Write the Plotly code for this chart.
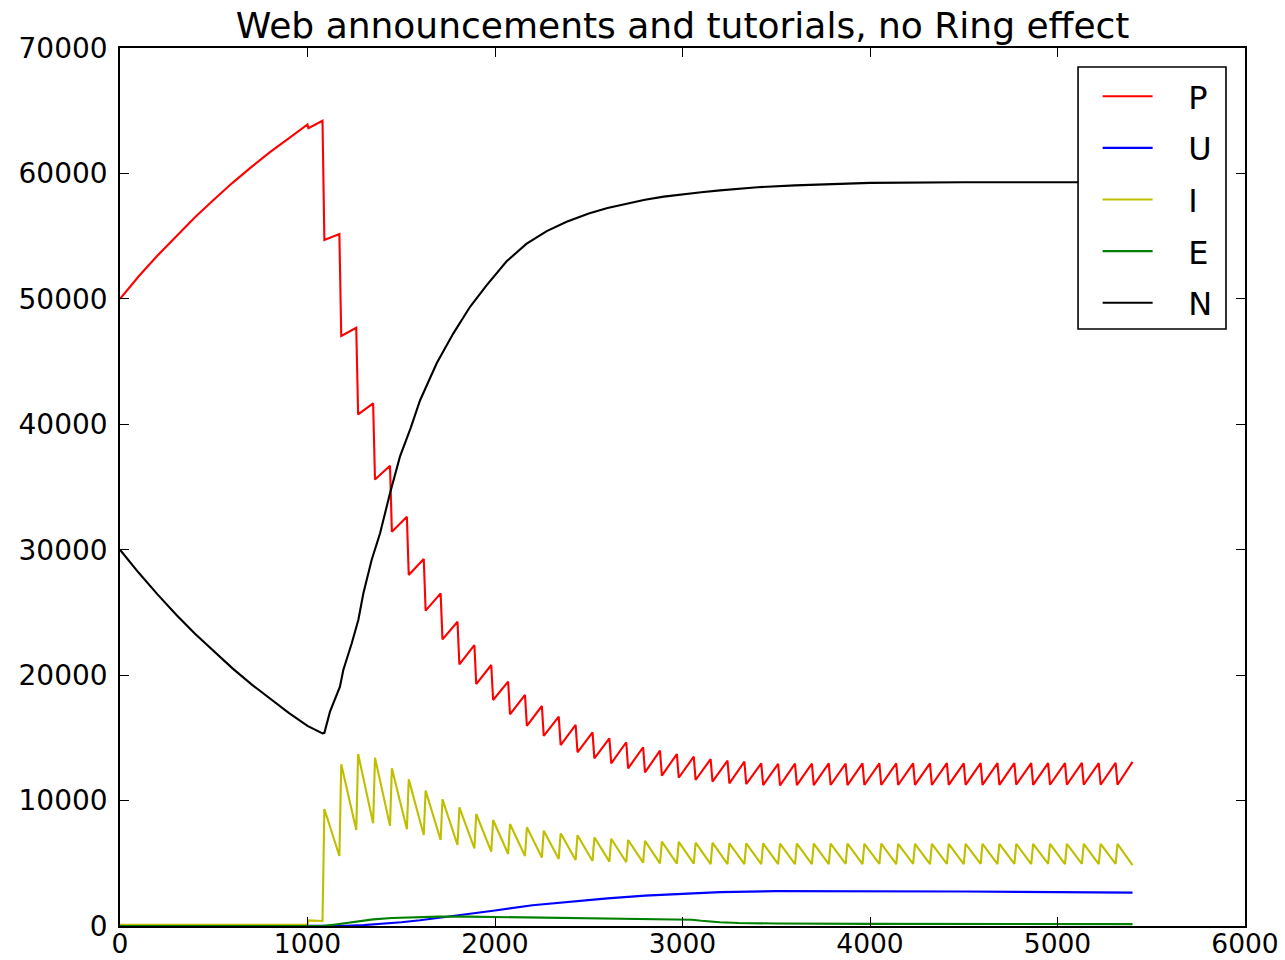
import plotly.graph_objects as go

# ---------------- data ----------------
# early phase, before the first big transfer
t_early = [0, 100, 200, 300, 400, 500, 600, 700, 800, 900, 1000, 1005]
P_early = [50000, 51800, 53450, 55000, 56500, 57900, 59250, 60500, 61700, 62800, 63900, 63600]
I_early = [100, 100, 100, 100, 100, 100, 100, 100, 100, 100, 100, 450]

# oscillating phase: pairs of (before jump, after jump) times
t_teeth = [1080, 1090, 1170, 1180, 1260, 1270, 1350, 1360, 1440, 1450,
           1530, 1540, 1620, 1630, 1710, 1720, 1800, 1810, 1890, 1900,
           1980, 1990, 2070, 2080, 2160, 2170, 2250, 2260, 2340, 2350,
           2430, 2440, 2520, 2530, 2610, 2620, 2700, 2710, 2790, 2800,
           2880, 2890, 2970, 2980, 3060, 3070, 3150, 3160, 3240, 3250,
           3330, 3340, 3420, 3430, 3510, 3520, 3600, 3610, 3690, 3700,
           3780, 3790, 3870, 3880, 3960, 3970, 4050, 4060, 4140, 4150,
           4230, 4240, 4320, 4330, 4410, 4420, 4500, 4510, 4590, 4600,
           4680, 4690, 4770, 4780, 4860, 4870, 4950, 4960, 5040, 5050,
           5130, 5140, 5220, 5230, 5310, 5320, 5400]

P_teeth = [64200, 54690, 55170, 47040, 47700, 40790, 41670, 35600, 36700, 31440,
           32630, 27980, 29260, 25140, 26520, 22850, 24260, 20860, 22400, 19290,
           20810, 18020, 19480, 16880, 18420, 15950, 17540, 15150, 16690, 14430,
           16030, 13850, 15440, 13370, 14960, 12970, 14650, 12570, 14250, 12250,
           13980, 11990, 13710, 11820, 13500, 11640, 13310, 11510, 13180, 11370,
           13100, 11320, 12970, 11240, 12920, 11200, 12950, 11230, 12950, 11230,
           12960, 11240, 12950, 11230, 12960, 11240, 12970, 11240, 12960, 11240,
           12970, 11250, 12970, 11240, 12980, 11250, 12970, 11250, 12980, 11250,
           12980, 11250, 12990, 11260, 12980, 11250, 12990, 11260, 12990, 11260,
           13000, 11260, 12990, 11260, 13000, 11260, 13080]

I_teeth = [400, 9330, 5580, 12890, 7650, 13710, 8190, 13420, 8000, 12570,
           7710, 11690, 7255, 10790, 6860, 10100, 6460, 9460, 6190, 8930,
           5925, 8450, 5740, 8130, 5580, 7870, 5450, 7600, 5340, 7390,
           5260, 7230, 5180, 7070, 5130, 6960, 5080, 6860, 5050, 6780,
           5000, 6720, 4970, 6700, 4970, 6640, 4940, 6640, 4940, 6590,
           4930, 6590, 4930, 6590, 4930, 6570, 4940, 6560, 4940, 6560,
           4940, 6560, 4950, 6560, 4940, 6550, 4950, 6560, 4940, 6550,
           4950, 6550, 4940, 6550, 4950, 6550, 4940, 6550, 4950, 6550,
           4940, 6550, 4950, 6550, 4940, 6550, 4950, 6550, 4940, 6550,
           4950, 6550, 4940, 6550, 4950, 6550, 4860]

# smooth compartments
t_N = [0, 100, 200, 300, 400, 500, 600, 700, 800, 900, 1000, 1080, 1090, 1120,
       1173, 1191, 1236, 1271, 1298, 1342, 1387, 1440, 1493, 1550, 1600, 1689,
       1778, 1867, 1956, 2062, 2169, 2276, 2382, 2453, 2500, 2600, 2700, 2800,
       2900, 3000, 3100, 3200, 3400, 3600, 3800, 4000, 4500, 5000, 5400]
N_vals = [30000, 28160, 26440, 24820, 23300, 21880, 20540, 19280, 18100, 16990,
          15950, 15350, 15400, 17090, 19080, 20410, 22540, 24400, 26530, 29180,
          31310, 34500, 37420, 39700, 41900, 44860, 47250, 49370, 51100, 53000,
          54400, 55400, 56150, 56550, 56800, 57250, 57600, 57900, 58150, 58350,
          58500, 58650, 58900, 59050, 59150, 59250, 59300, 59300, 59300]

t_U = [0, 1080, 1200, 1300, 1400, 1500, 1600, 1700, 1800, 1900, 2000, 2200, 2400,
       2600, 2800, 3000, 3200, 3500, 4000, 4500, 5000, 5400]
U_vals = [0, 0, 20, 70, 170, 300, 460, 640, 830, 1030, 1240, 1650, 1950,
          2200, 2420, 2580, 2700, 2780, 2790, 2750, 2700, 2660]

t_E = [0, 1080, 1150, 1250, 1350, 1450, 1550, 1700, 1850, 2000, 2200, 2400, 2600,
       2800, 3000, 3050, 3100, 3200, 3300, 3500, 4000, 5400]
E_vals = [0, 0, 120, 350, 530, 640, 700, 750, 750, 720, 660, 610, 570,
          540, 520, 500, 420, 300, 240, 200, 170, 150]

series_names = ["P", "U", "I", "E", "N"]
series_colors = ["#ff0000", "#0000ff", "#bfbf00", "#008000", "#000000"]

# ---------------- figure ----------------
xs = {"P": t_early + t_teeth, "U": t_U, "I": t_early + t_teeth, "E": t_E, "N": t_N}
ys = {"P": P_early + P_teeth, "U": U_vals, "I": I_early + I_teeth, "E": E_vals, "N": N_vals}

NBSP = "\u00a0"
fig = go.Figure()
for name, col in zip(series_names, series_colors):
    fig.add_trace(go.Scatter(
        x=xs[name], y=ys[name], mode="lines", name=NBSP * 3 + name,
        line=dict(color=col, width=2.1),
        legendgroup=name,
    ))

FONT = "DejaVu Sans"
axis_common = dict(
    showgrid=False, zeroline=False, showline=True, linecolor="black",
    linewidth=1.6, mirror="ticks", ticks="inside", ticklen=9, tickwidth=1.3,
    tickcolor="black", tickformat="d", automargin=False,
)

fig.update_layout(
    width=1285, height=960,
    margin=dict(l=120, r=40, t=48, b=34, pad=0),
    paper_bgcolor="white", plot_bgcolor="white",
    title=dict(text="Web announcements and tutorials, no Ring effect",
               x=0.5312, xanchor="center", xref="container",
               y=0.974, yanchor="middle", yref="container",
               font=dict(family=FONT, size=36, color="black"),
               automargin=False),
    xaxis=dict(range=[0, 6000], dtick=1000, tick0=0, ticklabelstandoff=-7,
               tickfont=dict(family=FONT, size=26.5, color="black"), **axis_common),
    yaxis=dict(range=[0, 70000], dtick=10000, tick0=0, ticklabelstandoff=5,
               tickfont=dict(family=FONT, size=28, color="black"), **axis_common),
    showlegend=True,
    legend=dict(
        x=0.869, y=0.9761, xanchor="left", yanchor="top",
        bgcolor="rgba(0,0,0,0)", borderwidth=0,
        font=dict(family=FONT, size=32, color="black"),
        traceorder="grouped", tracegroupgap=7,
        itemwidth=50,
    ),
    shapes=[dict(type="rect", xref="paper", yref="paper",
                 x0=0.8516, x1=0.9831, y0=0.6800, y1=0.9784,
                 fillcolor="white", line=dict(color="black", width=1.6),
                 layer="above")],
)

fig.write_html("out.html")
